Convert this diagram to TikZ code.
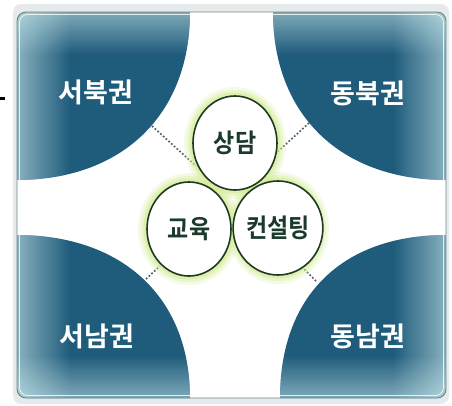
\documentclass[tikz,border=0pt]{standalone}
\usepackage{fontspec}
\usepackage{graphicx}
\newfontfamily\kr{Noto Sans CJK KR}[BoldFont={Noto Sans CJK KR Bold}]
\usetikzlibrary{shapes.geometric,fadings}
\definecolor{deep}{HTML}{1F5B7B}
\definecolor{edgeglow}{HTML}{CFEDEE}
\definecolor{frame}{HTML}{E6EAEA}
\definecolor{rim}{HTML}{6E8585}
\definecolor{halo}{HTML}{D6EC98}
\definecolor{ring}{HTML}{1E3A22}
\definecolor{inktext}{HTML}{1B3A2C}
\definecolor{dots}{HTML}{4F5E6E}
\tikzfading[name=fadeR, left color=transparent!0, right color=transparent!100]
\tikzfading[name=fadeL, left color=transparent!100, right color=transparent!0]
\tikzfading[name=fadeD, top color=transparent!0, bottom color=transparent!100]
\tikzfading[name=fadeU, top color=transparent!100, bottom color=transparent!0]
\tikzset{
  region/.style={font=\kr\bfseries\fontsize{27}{27}\selectfont, text=white},
  bubble/.style={ellipse, minimum width=84pt, minimum height=94pt, inner sep=0pt,
     fill=white, draw=ring, line width=1.6pt, text=inktext,
     font=\kr\bfseries\fontsize{23}{23}\selectfont},
  link/.style={draw=dots, line width=1.7pt, dotted},
}
\newcommand\darkpath{%
  (17,12) -- (17,180) .. controls (121,180) and (190,116) .. (190,12) -- cycle
  (446,12) -- (446,180) .. controls (342,180) and (273,116) .. (273,12) -- cycle
  (17,398) -- (17,235) .. controls (121,235) and (190,296) .. (190,398) -- cycle
  (446,398) -- (446,235) .. controls (342,235) and (280,296) .. (280,398) -- cycle}
\begin{document}
\begin{tikzpicture}[x=1pt,y=-1pt]
\useasboundingbox (0,0) rectangle (452,405);
% stray mark
\fill[black] (0,96.5) rectangle (5,99.5);
% frame
\fill[frame, rounded corners=8pt] (13,4) rectangle (449,404);
\fill[white, rounded corners=9pt] (17,12) rectangle (446,398);
\begin{scope}
\clip[rounded corners=9pt] (17,12) rectangle (446,398);
\fill[deep] \darkpath;
\clip \darkpath;
% inner glow along the border, on the dark regions only
\fill[edgeglow, opacity=0.6, path fading=fadeR] (17,12) rectangle (70,398);
\fill[edgeglow, opacity=0.6, path fading=fadeL] (393,12) rectangle (446,398);
\fill[edgeglow, opacity=0.55, path fading=fadeD] (17,12) rectangle (446,55);
\fill[edgeglow, opacity=0.55, path fading=fadeU] (17,355) rectangle (446,398);
\end{scope}
\draw[rim, line width=0.9pt, rounded corners=9pt] (17,12) rectangle (446,398);
\draw[white, line width=0.8pt, opacity=0.8, rounded corners=8pt] (19.5,14.5) rectangle (443.5,395.5);
% dotted links
\coordinate (tl1) at (152,126);
\coordinate (tl2) at (196,166);
\coordinate (tr1) at (309,123);
\coordinate (tr2) at (274,155);
\coordinate (bl1) at (146,279);
\coordinate (bl2) at (160,266);
\coordinate (br1) at (316,281);
\coordinate (br2) at (304,269);
\draw[link] (tl1) -- (tl2);
\draw[link] (tr1) -- (tr2);
\draw[link] (bl1) -- (bl2);
\draw[link] (br1) -- (br2);
% halo
\coordinate (cS) at (235,143);
\coordinate (cE) at (189,229);
\coordinate (cC) at (278,228);
\foreach \w/\o in {18/0.25,12/0.35,7/0.55}{
  \foreach \c in {cS,cE,cC}{
    \draw[halo, line width=\w pt, opacity=\o] (\c) ellipse [x radius=42, y radius=47];
  }
}
% bubbles
\node[bubble] (sangdam) at (cS) {\scalebox{1}[1.12]{상담}};
\node[bubble] (edu) at (cE) {\scalebox{1}[1.12]{교육}};
\node[bubble] (consult) at (cC) {\scalebox{1}[1.12]{컨설팅}};
% region labels
\node[region] (nw) at (96,92) {서북권};
\node[region] (ne) at (368,93) {동북권};
\node[region] (sw) at (97,336) {서남권};
\node[region] (se) at (368,336) {동남권};
\end{tikzpicture}
\end{document}
